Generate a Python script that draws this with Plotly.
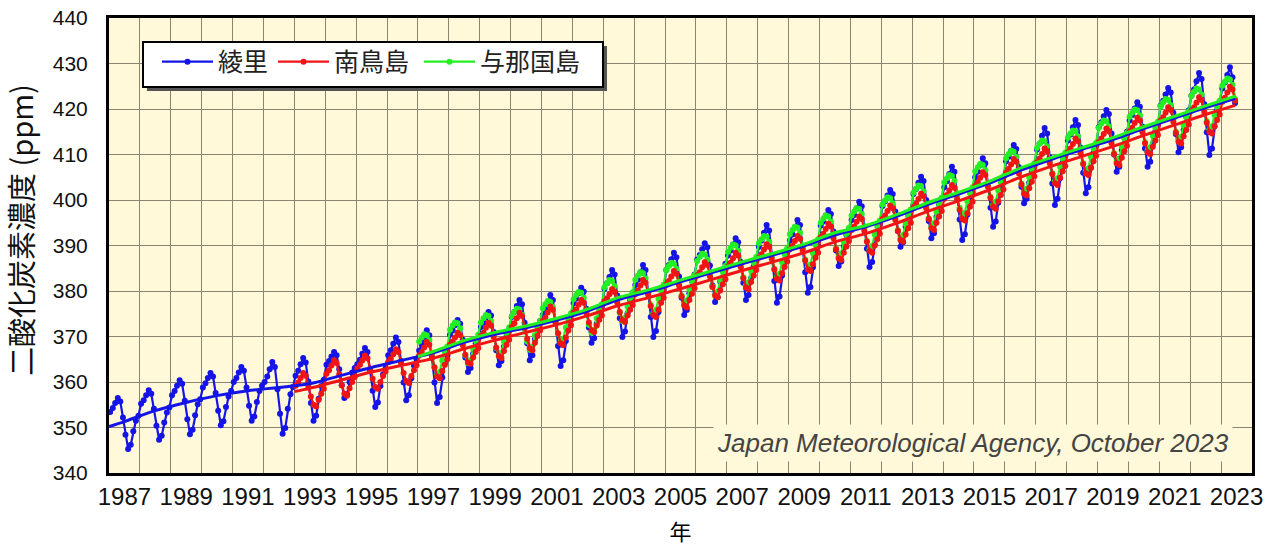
import pandas as pd
import plotly.graph_objects as go

# ---------------- data (ppm, monthly means) ----------------
RYORI_START = "1987-01-01"
RYORI = [
    353.4, 354.3, 355.4, 356.5, 355.7, 352.2, 348.4, 345.3, 346.2, 349.2, 351.5, 352.6,  # 1987
    355.2, 356.0, 357.1, 358.2, 357.4, 354.1, 350.4, 347.3, 348.2, 351.1, 353.3, 354.4,  # 1988
    357.1, 358.0, 359.2, 360.4, 359.6, 355.9, 351.8, 348.5, 349.5, 352.7, 355.1, 356.2,  # 1989
    358.8, 359.7, 360.9, 362.0, 361.2, 357.6, 353.7, 350.5, 351.4, 354.5, 356.8, 358.0,  # 1990
    360.0, 360.9, 362.1, 363.3, 362.5, 358.8, 354.8, 351.5, 352.4, 355.6, 358.0, 359.2,  # 1991
    360.0, 361.2, 362.8, 364.4, 363.3, 358.4, 353.0, 348.6, 349.9, 354.1, 357.3, 358.9,  # 1992
    361.4, 362.5, 363.9, 365.3, 364.3, 360.1, 355.4, 351.5, 352.6, 356.3, 359.1, 360.5,  # 1993
    363.8, 364.6, 365.6, 366.6, 365.9, 362.8, 359.3, 356.5, 357.3, 360.0, 362.1, 363.1,  # 1994
    363.9, 364.9, 366.2, 367.5, 366.6, 362.6, 358.1, 354.5, 355.5, 359.1, 361.7, 363.0,  # 1995
    365.9, 367.0, 368.4, 369.8, 368.8, 364.6, 359.9, 356.0, 357.1, 360.8, 363.6, 365.0,  # 1996
    366.9, 368.2, 369.8, 371.4, 370.3, 365.3, 359.9, 355.4, 356.7, 361.0, 364.2, 365.8,  # 1997
    370.4, 371.3, 372.5, 373.6, 372.8, 369.3, 365.4, 362.2, 363.1, 366.2, 368.5, 369.6,  # 1998
    372.1, 373.1, 374.2, 375.4, 374.6, 371.0, 367.0, 363.7, 364.6, 367.8, 370.1, 371.3,  # 1999
    374.3, 375.4, 376.7, 378.0, 377.1, 373.0, 368.5, 364.8, 365.9, 369.4, 372.1, 373.4,  # 2000
    374.7, 376.0, 377.5, 379.1, 378.0, 373.2, 367.9, 363.5, 364.8, 369.0, 372.1, 373.6,  # 2001
    377.3, 378.3, 379.5, 380.7, 379.9, 376.1, 372.0, 368.6, 369.6, 372.8, 375.3, 376.5,  # 2002
    380.5, 381.7, 383.1, 384.6, 383.6, 379.0, 374.0, 369.9, 371.1, 375.1, 378.0, 379.5,  # 2003
    381.3, 382.5, 384.1, 385.7, 384.6, 379.7, 374.3, 369.9, 371.2, 375.4, 378.6, 380.2,  # 2004
    384.6, 385.7, 387.0, 388.4, 387.4, 383.2, 378.5, 374.7, 375.8, 379.5, 382.2, 383.6,  # 2005
    386.9, 387.9, 389.2, 390.5, 389.6, 385.6, 381.2, 377.6, 378.6, 382.1, 384.7, 386.0,  # 2006
    387.8, 388.9, 390.2, 391.6, 390.7, 386.4, 381.8, 378.0, 379.1, 382.8, 385.5, 386.8,  # 2007
    389.7, 391.1, 392.8, 394.5, 393.3, 388.0, 382.2, 377.4, 378.8, 383.4, 386.8, 388.5,  # 2008
    391.1, 392.4, 394.0, 395.6, 394.5, 389.5, 384.1, 379.6, 380.9, 385.2, 388.4, 390.0,  # 2009
    394.4, 395.3, 396.6, 397.8, 396.9, 393.1, 388.9, 385.5, 386.5, 389.8, 392.3, 393.5,  # 2010
    395.6, 396.7, 398.2, 399.6, 398.6, 394.2, 389.3, 385.3, 386.4, 390.3, 393.2, 394.6,  # 2011
    398.7, 399.7, 401.0, 402.2, 401.3, 397.5, 393.2, 389.7, 390.7, 394.1, 396.6, 397.8,  # 2012
    401.3, 402.4, 403.8, 405.1, 404.2, 400.0, 395.4, 391.6, 392.7, 396.3, 399.0, 400.4,  # 2013
    402.8, 404.1, 405.7, 407.3, 406.2, 401.2, 395.7, 391.2, 392.5, 396.8, 400.1, 401.7,  # 2014
    405.0, 406.2, 407.7, 409.2, 408.1, 403.5, 398.3, 394.1, 395.3, 399.4, 402.4, 403.9,  # 2015
    408.5, 409.5, 410.8, 412.1, 411.2, 407.2, 402.9, 399.3, 400.3, 403.8, 406.3, 407.6,  # 2016
    411.1, 412.4, 414.1, 415.8, 414.6, 409.4, 403.6, 398.9, 400.3, 404.8, 408.2, 409.9,  # 2017
    413.1, 414.4, 416.0, 417.6, 416.5, 411.5, 406.0, 401.5, 402.8, 407.1, 410.4, 412.0,  # 2018
    416.0, 417.1, 418.4, 419.8, 418.9, 414.6, 410.0, 406.2, 407.3, 411.0, 413.7, 415.0,  # 2019
    417.5, 418.7, 420.1, 421.5, 420.5, 416.1, 411.3, 407.3, 408.4, 412.3, 415.1, 416.5,  # 2020
    420.7, 421.8, 423.2, 424.6, 423.6, 419.2, 414.5, 410.5, 411.6, 415.4, 418.3, 419.7,  # 2021
    422.9, 424.3, 426.1, 427.9, 426.6, 421.1, 414.9, 409.9, 411.3, 416.2, 419.8, 421.6,  # 2022
    424.5, 425.8, 427.5, 429.2, 427.0, 421.3,                                              # 2023
]

MINAMITORI_START = "1993-01-01"
MINAMITORI = [
    359.2, 359.9, 360.9, 362.0, 361.4, 359.0, 356.8, 355.0, 354.6, 356.1, 357.4, 358.5,  # 1993
    361.8, 362.6, 363.6, 364.8, 364.2, 361.7, 359.3, 357.4, 357.0, 358.6, 360.0, 361.1,  # 1994
    363.0, 363.8, 364.7, 365.8, 365.2, 362.9, 360.7, 358.9, 358.5, 360.0, 361.3, 362.3,  # 1995
    364.4, 365.1, 366.1, 367.2, 366.6, 364.2, 362.0, 360.2, 359.8, 361.3, 362.6, 363.7,  # 1996
    365.8, 366.6, 367.6, 368.8, 368.2, 365.6, 363.2, 361.2, 360.8, 362.4, 363.8, 365.0,  # 1997
    368.2, 368.9, 369.8, 370.8, 370.3, 368.1, 366.0, 364.3, 364.0, 365.4, 366.6, 367.5,  # 1998
    370.1, 370.8, 371.9, 373.0, 372.4, 369.9, 367.6, 365.7, 365.3, 366.8, 368.2, 369.3,  # 1999
    372.1, 372.9, 374.0, 375.2, 374.5, 371.9, 369.5, 367.4, 367.0, 368.6, 370.1, 371.3,  # 2000
    373.4, 374.2, 375.3, 376.6, 375.9, 373.2, 370.7, 368.5, 368.1, 369.8, 371.3, 372.5,  # 2001
    375.3, 376.0, 377.0, 378.0, 377.4, 375.2, 373.1, 371.4, 371.0, 372.4, 373.7, 374.6,  # 2002
    377.7, 378.4, 379.3, 380.4, 379.8, 377.5, 375.4, 373.6, 373.2, 374.6, 375.9, 376.9,  # 2003
    379.3, 380.1, 381.2, 382.4, 381.8, 379.2, 376.7, 374.7, 374.3, 375.9, 377.4, 378.5,  # 2004
    381.4, 382.2, 383.2, 384.4, 383.8, 381.2, 378.8, 376.8, 376.4, 378.0, 379.4, 380.6,  # 2005
    383.4, 384.1, 385.2, 386.3, 385.7, 383.2, 380.9, 379.0, 378.6, 380.1, 381.5, 382.6,  # 2006
    385.4, 386.2, 387.2, 388.4, 387.8, 385.2, 382.8, 380.8, 380.4, 382.0, 383.4, 384.6,  # 2007
    387.3, 388.1, 389.1, 390.3, 389.7, 387.1, 384.7, 382.7, 382.3, 383.9, 385.3, 386.5,  # 2008
    389.2, 389.9, 391.0, 392.1, 391.5, 389.0, 386.7, 384.8, 384.4, 385.9, 387.3, 388.4,  # 2009
    391.8, 392.6, 393.6, 394.8, 394.2, 391.6, 389.2, 387.2, 386.8, 388.4, 389.8, 391.0,  # 2010
    393.4, 394.2, 395.2, 396.4, 395.8, 393.2, 390.8, 388.8, 388.4, 390.0, 391.4, 392.6,  # 2011
    395.8, 396.6, 397.6, 398.8, 398.2, 395.6, 393.2, 391.2, 390.8, 392.4, 393.8, 395.0,  # 2012
    398.4, 399.2, 400.2, 401.4, 400.8, 398.2, 395.8, 393.8, 393.4, 395.0, 396.4, 397.6,  # 2013
    400.3, 401.1, 402.1, 403.3, 402.7, 400.2, 397.8, 395.9, 395.5, 397.1, 398.5, 399.6,  # 2014
    403.1, 403.9, 404.9, 406.1, 405.5, 402.9, 400.5, 398.5, 398.1, 399.7, 401.1, 402.3,  # 2015
    406.0, 406.8, 407.8, 409.0, 408.4, 405.8, 403.4, 401.4, 401.0, 402.6, 404.0, 405.2,  # 2016
    408.3, 409.1, 410.1, 411.3, 410.7, 408.1, 405.7, 403.7, 403.3, 404.9, 406.3, 407.5,  # 2017
    410.5, 411.3, 412.3, 413.5, 412.9, 410.3, 407.9, 405.9, 405.5, 407.1, 408.5, 409.7,  # 2018
    412.7, 413.5, 414.5, 415.7, 415.1, 412.5, 410.1, 408.1, 407.7, 409.3, 410.7, 411.9,  # 2019
    415.1, 415.9, 416.9, 418.1, 417.5, 414.9, 412.5, 410.5, 410.1, 411.7, 413.1, 414.3,  # 2020
    417.4, 418.2, 419.2, 420.4, 419.8, 417.2, 414.8, 412.8, 412.4, 414.0, 415.4, 416.6,  # 2021
    419.6, 420.4, 421.4, 422.6, 422.0, 419.4, 417.0, 415.0, 414.6, 416.2, 417.6, 418.8,  # 2022
    421.6, 422.5, 423.6, 424.9, 424.3, 421.8,                                              # 2023
]

YONAGUNI_START = "1997-01-01"
YONAGUNI = [
    368.9, 369.8, 370.5, 370.3, 369.2, 366.0, 363.3, 361.5, 362.2, 364.7, 366.5, 367.8,  # 1997
    371.5, 372.4, 373.1, 372.9, 371.8, 368.6, 365.9, 364.1, 364.8, 367.3, 369.1, 370.4,  # 1998
    373.1, 374.0, 374.7, 374.5, 373.4, 370.2, 367.5, 365.7, 366.4, 368.9, 370.7, 372.0,  # 1999
    374.5, 375.4, 376.1, 375.9, 374.8, 371.6, 368.9, 367.1, 367.8, 370.3, 372.1, 373.4,  # 2000
    376.2, 377.1, 377.8, 377.6, 376.5, 373.3, 370.6, 368.8, 369.5, 372.0, 373.8, 375.1,  # 2001
    378.2, 379.1, 379.8, 379.6, 378.5, 375.3, 372.6, 370.8, 371.5, 374.0, 375.8, 377.1,  # 2002
    380.8, 381.7, 382.4, 382.2, 381.1, 377.9, 375.2, 373.4, 374.1, 376.6, 378.4, 379.7,  # 2003
    382.5, 383.4, 384.1, 383.9, 382.8, 379.6, 376.9, 375.1, 375.8, 378.3, 380.1, 381.4,  # 2004
    384.6, 385.5, 386.2, 386.0, 384.9, 381.7, 379.0, 377.2, 377.9, 380.4, 382.2, 383.5,  # 2005
    386.6, 387.5, 388.2, 388.0, 386.9, 383.7, 381.0, 379.2, 379.9, 382.4, 384.2, 385.5,  # 2006
    388.6, 389.5, 390.2, 390.0, 388.9, 385.7, 383.0, 381.2, 381.9, 384.4, 386.2, 387.5,  # 2007
    390.5, 391.4, 392.1, 391.9, 390.8, 387.6, 384.9, 383.1, 383.8, 386.3, 388.1, 389.4,  # 2008
    392.5, 393.4, 394.1, 393.9, 392.8, 389.6, 386.9, 385.1, 385.8, 388.3, 390.1, 391.4,  # 2009
    395.0, 395.9, 396.6, 396.4, 395.3, 392.1, 389.4, 387.6, 388.3, 390.8, 392.6, 393.9,  # 2010
    396.6, 397.5, 398.2, 398.0, 396.9, 393.7, 391.0, 389.2, 389.9, 392.4, 394.2, 395.5,  # 2011
    399.0, 399.9, 400.6, 400.4, 399.3, 396.1, 393.4, 391.6, 392.3, 394.8, 396.6, 397.9,  # 2012
    401.6, 402.5, 403.2, 403.0, 401.9, 398.7, 396.0, 394.2, 394.9, 397.4, 399.2, 400.5,  # 2013
    403.9, 404.8, 405.5, 405.3, 404.2, 401.0, 398.3, 396.5, 397.2, 399.7, 401.5, 402.8,  # 2014
    406.3, 407.2, 407.9, 407.7, 406.6, 403.4, 400.7, 398.9, 399.6, 402.1, 403.9, 405.2,  # 2015
    409.2, 410.1, 410.8, 410.6, 409.5, 406.3, 403.6, 401.8, 402.5, 405.0, 406.8, 408.1,  # 2016
    411.5, 412.4, 413.1, 412.9, 411.8, 408.6, 405.9, 404.1, 404.8, 407.3, 409.1, 410.4,  # 2017
    413.7, 414.6, 415.3, 415.1, 414.0, 410.8, 408.1, 406.3, 407.0, 409.5, 411.3, 412.6,  # 2018
    415.9, 416.8, 417.5, 417.3, 416.2, 413.0, 410.3, 408.5, 409.2, 411.7, 413.5, 414.8,  # 2019
    418.3, 419.2, 419.9, 419.7, 418.6, 415.4, 412.7, 410.9, 411.6, 414.1, 415.9, 417.2,  # 2020
    420.6, 421.5, 422.2, 422.0, 420.9, 417.7, 415.0, 413.2, 413.9, 416.4, 418.2, 419.5,  # 2021
    422.9, 423.8, 424.5, 424.3, 423.2, 420.0, 417.3, 415.5, 416.2, 418.7, 420.5, 421.8,  # 2022
    425.1, 426.0, 426.7, 426.5, 425.3, 422.2,                                              # 2023
]

# Deseasonalised trend curves: value at series start, mid-year values, value at series end
RYORI_TREND = [350.2, 351.3, 353.7, 355.5, 357.0, 358.1, 358.8, 359.6, 361.4, 363.2,
               364.8, 366.4, 368.7, 370.5, 371.9, 373.6, 375.6, 378.1, 379.9, 382.0,
               384.0, 386.0, 387.9, 389.9, 392.3, 394.1, 396.4, 399.0, 401.3, 403.7,
               406.5, 408.9, 411.1, 413.3, 415.7, 418.0, 420.3, 422.3]
MINAMITORI_TREND = [357.9, 358.6, 360.4, 362.2, 363.7, 365.2, 367.3, 369.2, 370.9, 372.6,
                    374.6, 376.8, 378.6, 380.5, 382.5, 384.5, 386.4, 388.4, 390.8, 392.6,
                    394.9, 397.5, 399.8, 402.2, 405.0, 407.4, 409.6, 411.8, 414.2, 416.5,
                    418.8, 420.8]
YONAGUNI_TREND = [365.6, 366.7, 369.1, 370.9, 372.3, 374.0, 376.0, 378.6, 380.3, 382.4,
                  384.4, 386.4, 388.3, 390.3, 392.8, 394.4, 396.8, 399.4, 401.7, 404.1,
                  407.0, 409.3, 411.5, 413.7, 416.1, 418.4, 420.7, 422.8]
TREND_END = "2023-06-15"

NAMES = ["綾里", "南鳥島", "与那国島"]
COLORS = ["#1414E6", "#F01414", "#22F022"]
LEGEND_TEXT_W = [50, 80, 100]
TICK_YEARS = [1987, 1989, 1991, 1993, 1995, 1997, 1999, 2001, 2003, 2005, 2007, 2009,
              2011, 2013, 2015, 2017, 2019, 2021, 2023]
TICK_LABELS = ["1987", "1989", "1991", "1993", "1995", "1997", "1999", "2001", "2003",
               "2005", "2007", "2009", "2011", "2013", "2015", "2017", "2019", "2021", "2023"]
Y_TITLE = "二酸化炭素濃度 (ppm)"
X_TITLE = "年"
CREDIT = "Japan Meteorological Agency, October 2023"

PLOT_BG = "#FFF8D9"
GRID = "#8A8470"
JP = "Noto Sans CJK JP"
LAT = "Liberation Sans, Arial, Noto Sans CJK JP"


def monthly_dates(start, n):
    return pd.date_range(start=start, periods=n, freq="MS") + pd.Timedelta(days=14)


def trend_dates(start, n):
    y0 = pd.Timestamp(start).year
    mids = [pd.Timestamp(f"{y0 + i}-07-01") for i in range(n - 2)]
    return [pd.Timestamp(start)] + mids + [pd.Timestamp(TREND_END)]


series = [
    (RYORI_START, RYORI, RYORI_TREND, 0),
    (MINAMITORI_START, MINAMITORI, MINAMITORI_TREND, 1),
    (YONAGUNI_START, YONAGUNI, YONAGUNI_TREND, 2),
]

fig = go.Figure()

# monthly series (draw order: blue, green, red)
for start, vals, _, i in [series[0], series[2], series[1]]:
    fig.add_trace(go.Scatter(
        x=monthly_dates(start, len(vals)), y=vals, name=NAMES[i],
        mode="lines+markers", legendrank=i + 1, legendwidth=LEGEND_TEXT_W[i],
        line=dict(color=COLORS[i], width=2.2),
        marker=dict(color=COLORS[i], size=6),
    ))

# trend curves
for start, _, tr, i in [series[0], series[2], series[1]]:
    fig.add_trace(go.Scatter(
        x=trend_dates(start, len(tr)), y=tr, mode="lines", showlegend=False,
        line=dict(color=COLORS[i], width=3, shape="spline", smoothing=0.8),
        hoverinfo="skip",
    ))

fig.update_layout(
    width=1278, height=550,
    margin=dict(l=109, r=26, t=18, b=77, autoexpand=False),
    paper_bgcolor="white",
    plot_bgcolor=PLOT_BG,
    font=dict(family=LAT, size=20, color="black"),
    legend=dict(
        orientation="h", x=0.042, y=0.954, xanchor="left", yanchor="top",
        bgcolor="rgba(0,0,0,0)", borderwidth=0,
        itemwidth=51, tracegroupgap=0,
        font=dict(family=JP, size=25, color="#222"),
    ),
    xaxis=dict(
        type="date", range=["1987-01-01", "2024-01-01"], automargin=False,
        tickmode="array",
        tickvals=[f"{y}-07-02" for y in TICK_YEARS], ticktext=TICK_LABELS,
        ticks="", showgrid=False, zeroline=False,
        minor=dict(dtick="M12", tick0="1987-01-01", showgrid=True,
                   gridcolor=GRID, gridwidth=1.2, ticks=""),
        showline=True, linecolor="black", linewidth=3, mirror=True,
        tickfont=dict(family=LAT, size=24, color="#111"),
        title=dict(text=X_TITLE, font=dict(family=JP, size=22), standoff=16),
    ),
    yaxis=dict(
        range=[340, 440], tick0=340, dtick=10, automargin=False,
        ticks="", showgrid=True, gridcolor=GRID, gridwidth=1.2, zeroline=False,
        showline=True, linecolor="black", linewidth=3, mirror=True,
        ticklabelstandoff=14, ticklabeloverflow="allow",
        tickfont=dict(family=LAT, size=21, color="#111"),
    ),
)

# y-axis title (placed slightly above the plot centre, as in the original)
fig.add_annotation(
    xref="paper", yref="paper", x=-0.0779, y=0.534, xanchor="center", yanchor="middle",
    text=Y_TITLE, textangle=-90, showarrow=False,
    font=dict(family=JP, size=29, color="#111"),
)

# legend frame: drop shadow + white box with black border
fig.add_shape(
    type="rect", xref="paper", yref="paper", layer="above",
    x0=0.0332, x1=0.4357, y0=0.8396, y1=0.9385,
    fillcolor="#555555", line=dict(width=0),
)
fig.add_shape(
    type="rect", xref="paper", yref="paper", layer="above",
    x0=0.02975, x1=0.4322, y0=0.8484, y1=0.9473,
    fillcolor="white", line=dict(color="black", width=2),
)

fig.add_annotation(
    xref="paper", yref="paper", x=0.983, y=0.066, xanchor="right", yanchor="middle",
    text=f"<i>{CREDIT}</i>", showarrow=False,
    font=dict(family=LAT, size=26, color="#444"), bgcolor=PLOT_BG, borderpad=3,
)

# remove the default 8px page margin so the figure fills the window exactly
fig.write_html(
    "out.html",
    config={"displayModeBar": False},
    post_script="document.body.style.margin='0';",
)
